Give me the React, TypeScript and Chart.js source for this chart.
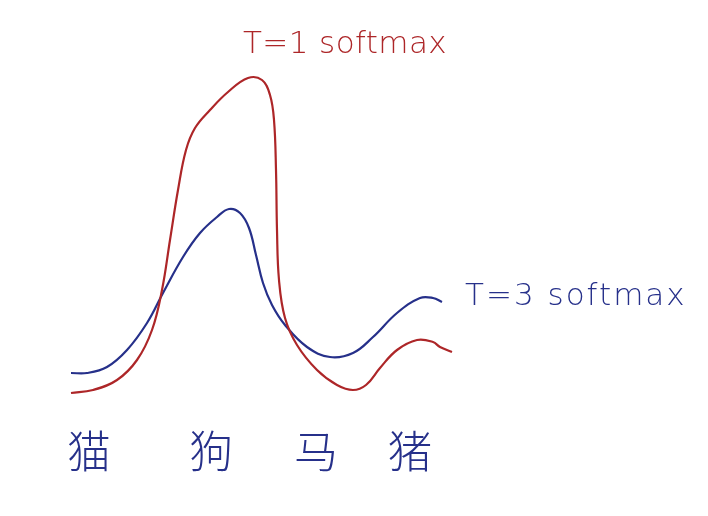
import React, { useEffect, useRef } from "react";
import { Chart, registerables } from "chart.js";

Chart.register(...registerables);

// Category labels along the bottom and their horizontal positions (x-scale units)
const categories = ["猫", "狗", "马", "猪"];
const categoryX = [89, 211, 316, 410];

// T=1 softmax curve (red)
const redX = [71, 93, 117, 137, 152, 162, 170, 178, 186, 195, 210, 228, 248, 262, 270, 274, 276, 277, 279, 285, 297, 317, 337, 353, 366, 380, 397, 417, 433, 440, 452];
const redY = [393, 390, 380, 360, 330, 290, 240, 190, 150, 128, 110, 92, 78, 80, 95, 120, 170, 230, 280, 318, 345, 370, 385, 390, 385, 368, 350, 340, 342, 347, 352];

// T=3 softmax curve (blue)
const blueX = [71, 87, 107, 127, 147, 163, 183, 200, 217, 229, 240, 249, 256, 263, 272, 285, 307, 330, 353, 373, 397, 420, 433, 442];
const blueY = [373, 373, 367, 350, 323, 293, 257, 233, 217, 209, 213, 228, 255, 283, 305, 325, 347, 357, 353, 337, 313, 298, 298, 302];

const seriesNames = ["T=1 softmax", "T=3 softmax"];
const labelAnchorX = [243, 465];
const labelAnchorY = [53, 305];

const RED = "#ad2628";
const BLUE = "#26308a";

export default function App() {
  const ref = useRef<HTMLCanvasElement | null>(null);

  useEffect(() => {
    document.body.style.margin = "0";
    const canvas = ref.current;
    if (!canvas) return;

    const textPlugin = {
      id: "sketchText",
      afterDatasetsDraw(chart: any) {
        const { ctx, scales } = chart;
        const xs = scales.x;
        const ys = scales.y;
        ctx.save();
        const colors = [RED, BLUE];
        const spacing = ["0.4px", "2px"];
        seriesNames.forEach((name, i) => {
          ctx.font = "200 31px 'DejaVu Sans'";
          (ctx as any).letterSpacing = spacing[i];
          ctx.fillStyle = colors[i];
          ctx.textAlign = "left";
          ctx.textBaseline = "alphabetic";
          ctx.fillText(name, xs.getPixelForValue(labelAnchorX[i]), ys.getPixelForValue(labelAnchorY[i]));
        });
        (ctx as any).letterSpacing = "0px";
        ctx.font = "300 44px 'Noto Sans CJK SC'";
        ctx.fillStyle = BLUE;
        ctx.textAlign = "center";
        ctx.textBaseline = "middle";
        categories.forEach((c, i) => {
          ctx.fillText(c, xs.getPixelForValue(categoryX[i]), ys.getPixelForValue(451));
        });
        ctx.restore();
      },
    };

    const chart = new Chart(canvas, {
      type: "line",
      data: {
        datasets: [
          {
            label: seriesNames[0],
            data: redX.map((x, i) => ({ x, y: redY[i] })),
            borderColor: RED,
            borderWidth: 2.2,
            pointRadius: 0,
            tension: 0.4,
            fill: false,
          },
          {
            label: seriesNames[1],
            data: blueX.map((x, i) => ({ x, y: blueY[i] })),
            borderColor: BLUE,
            borderWidth: 2.2,
            pointRadius: 0,
            tension: 0.4,
            fill: false,
          },
        ],
      },
      options: {
        animation: false,
        responsive: true,
        maintainAspectRatio: false,
        layout: { padding: 0 },
        plugins: {
          legend: { display: false },
          tooltip: { enabled: false },
          title: { display: false },
        },
        scales: {
          x: { type: "linear", min: 0, max: 708, display: false },
          y: { type: "linear", min: 0, max: 516, reverse: true, display: false },
        },
      },
      plugins: [textPlugin],
    });

    return () => chart.destroy();
  }, []);

  return (
    <div style={{ position: "fixed", left: 0, top: 0, width: 708, height: 516, background: "#ffffff" }}>
      <canvas ref={ref} />
    </div>
  );
}
